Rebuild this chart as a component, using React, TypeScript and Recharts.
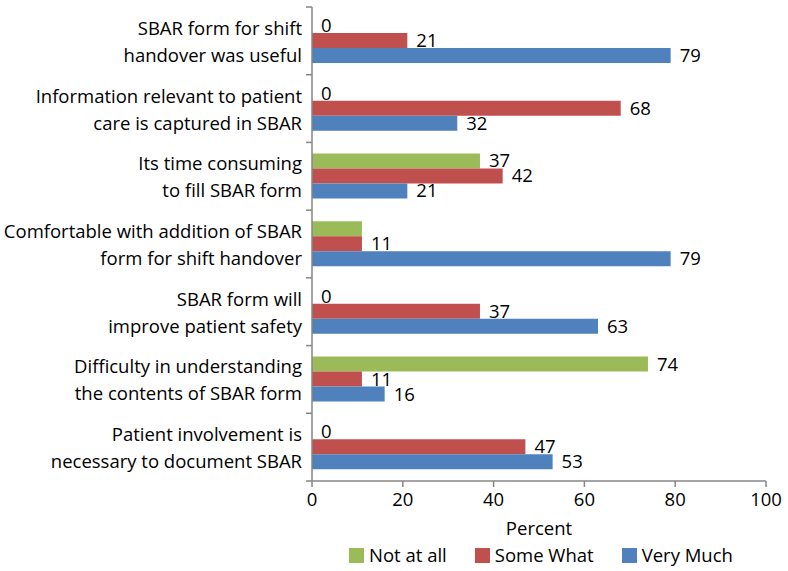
import React from 'react';
import { BarChart, Bar, XAxis, YAxis, LabelList, Legend } from 'recharts';

const categories = [
  'SBAR form for shift\nhandover was useful',
  'Information relevant to patient\ncare is captured in SBAR',
  'Its time consuming\nto fill SBAR form',
  'Comfortable with addition of SBAR\nform for shift handover',
  'SBAR form will\nimprove patient safety',
  'Difficulty in understanding\nthe contents of SBAR form',
  'Patient involvement is\nnecessary to document SBAR',
];
const notAtAll = [0, 0, 37, 11, 0, 74, 0];
const someWhat = [21, 68, 42, 11, 37, 11, 47];
const veryMuch = [79, 32, 21, 79, 63, 16, 53];
const hiddenNotAtAllLabels = [3];
const xTicks = [0, 20, 40, 60, 80, 100];
const seriesNames = ['Not at all', 'Some What', 'Very Much'];
const axisTitle = 'Percent';

const COLORS = ['#9bbb59', '#c0504d', '#4f81bd'];
const AXIS = '#868686';
const FONT = '"Open Sans", Lato, sans-serif';
const FS = 18.5;

const data = categories.map((c, i) => ({
  category: c,
  notAtAll: notAtAll[i],
  notAtAllLabel: hiddenNotAtAllLabels.includes(i) || notAtAll[i] === 0 ? null : notAtAll[i],
  notAtAllZero: notAtAll[i] === 0 ? 0 : null,
  someWhat: someWhat[i],
  veryMuch: veryMuch[i],
}));

function CategoryTick(props: any) {
  const { x, y, payload, index, visibleTicksCount } = props;
  const lines = String(payload.value).split('\n');
  const half = payload.offset ?? 33.86;
  const ax = x + 10;
  return (
    <g>
      <text x={x} y={y} textAnchor="end" fontFamily={FONT} fontSize={FS} fill="#000">
        <tspan x={x} dy={-6}>{lines[0]}</tspan>
        <tspan x={x} dy={27}>{lines[1]}</tspan>
      </text>
      <line x1={ax - 6} x2={ax} y1={y - half} y2={y - half} stroke={AXIS} strokeWidth={1.5} />
      {index === visibleTicksCount - 1 && (
        <line x1={ax - 6} x2={ax} y1={y + half} y2={y + half} stroke={AXIS} strokeWidth={1.5} />
      )}
    </g>
  );
}

// Draws the "0" labels of zero-length "Not at all" bars, one bar slot above the Some What bar.
function ZeroLabel(props: any) {
  const { x, y, height, index } = props;
  const v = data[index]?.notAtAllZero;
  if (v === null || v === undefined) return null;
  return (
    <text x={x + 9} y={y - height / 2} dy="0.36em" fontFamily={FONT} fontSize={FS} fill="#000" textAnchor="start">
      {v}
    </text>
  );
}

function LegendContent(props: any) {
  const { payload } = props;
  return (
    <div style={{ display: 'flex', fontFamily: FONT, fontSize: FS, color: '#000', lineHeight: '18px' }}>
      {(payload || []).map((p: any, i: number) => (
        <div key={i} style={{ display: 'flex', alignItems: 'center', marginRight: 28 }}>
          <span style={{ display: 'inline-block', width: 15, height: 15, background: p.color, marginRight: 5 }} />
          <span>{p.value}</span>
        </div>
      ))}
    </div>
  );
}

const labelStyle = { fill: '#000', fontSize: FS, fontFamily: FONT };

export default function App() {
  return (
    <div style={{ position: 'absolute', left: 0, top: 0, background: '#fff' }}>
      <BarChart
        width={788}
        height={571}
        data={data}
        layout="vertical"
        margin={{ top: 7, right: 22, bottom: 60, left: 0 }}
        barCategoryGap={11}
        barGap={0}
      >
        <XAxis
          type="number"
          domain={[0, 100]}
          ticks={xTicks}
          interval={0}
          height={30}
          tickSize={6}
          tickMargin={6}
          stroke={AXIS}
          axisLine={{ stroke: AXIS, strokeWidth: 1.5 }}
          tickLine={{ stroke: AXIS, strokeWidth: 1.5 }}
          tick={{ fill: '#000', fontSize: FS, fontFamily: FONT }}
          label={{ value: axisTitle, position: 'bottom', offset: 11, fill: '#000', fontSize: FS, fontFamily: FONT }}
        />
        <YAxis
          type="category"
          dataKey="category"
          width={312}
          interval={0}
          tickLine={false}
          tickSize={0}
          tickMargin={10}
          axisLine={{ stroke: AXIS, strokeWidth: 1.5 }}
          tick={<CategoryTick />}
        />
        <Legend
          verticalAlign="middle"
          align="center"
          layout="horizontal"
          content={<LegendContent />}
          wrapperStyle={{ top: 546, left: 349, width: 440 }}
        />
        <Bar dataKey="notAtAll" name={seriesNames[0]} fill={COLORS[0]} isAnimationActive={false}>
          <LabelList dataKey="notAtAllLabel" position="right" offset={9} {...labelStyle} />
        </Bar>
        <Bar dataKey="someWhat" name={seriesNames[1]} fill={COLORS[1]} isAnimationActive={false}>
          <LabelList dataKey="someWhat" position="right" offset={9} {...labelStyle} />
          <LabelList dataKey="notAtAllZero" content={<ZeroLabel />} />
        </Bar>
        <Bar dataKey="veryMuch" name={seriesNames[2]} fill={COLORS[2]} isAnimationActive={false}>
          <LabelList dataKey="veryMuch" position="right" offset={9} {...labelStyle} />
        </Bar>
      </BarChart>
    </div>
  );
}
